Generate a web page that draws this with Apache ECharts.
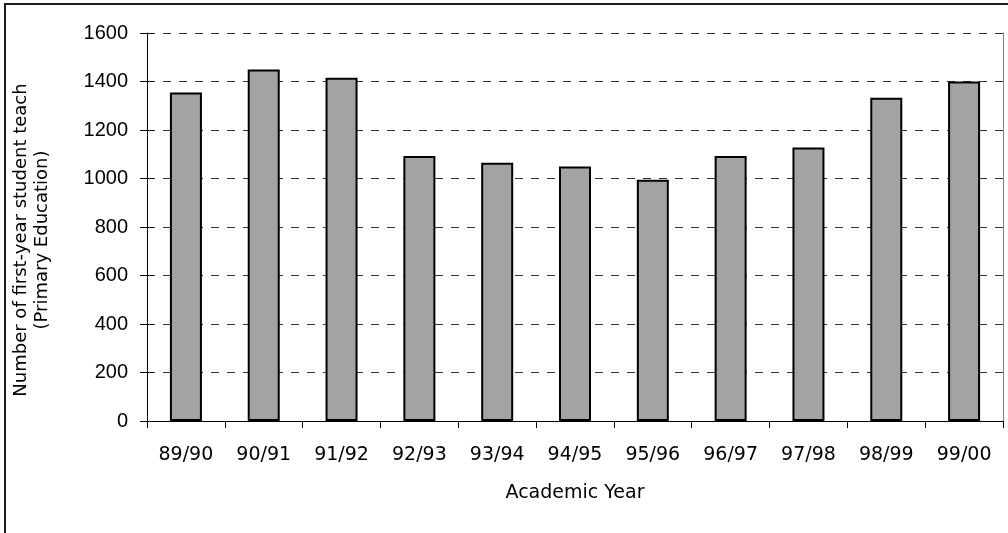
<!DOCTYPE html>
<html>
<head>
<meta charset="utf-8">
<script src="https://cdn.jsdelivr.net/npm/echarts@6/dist/echarts.min.js"></script>
<style>
  html, body { margin: 0; padding: 0; background: #fff; }
  #chart { width: 1008px; height: 533px; }
</style>
</head>
<body>
<div id="chart"></div>
<script>
// Academic years on the category axis
const years = ['89/90', '90/91', '91/92', '92/93', '93/94', '94/95', '95/96', '96/97', '97/98', '98/99', '99/00'];
// First-year student teachers enrolled (primary education)
const students = [1355, 1450, 1415, 1093, 1065, 1050, 995, 1093, 1128, 1333, 1400];
// Value axis range
const yMin = 0;
const yMax = 1600;
const yStep = 200;

const xFont = 'DejaVu Sans';
const yFont = 'Liberation Sans';

const chart = echarts.init(document.getElementById('chart'));

const valueAxisBase = {
  type: 'value',
  min: yMin,
  max: yMax,
  interval: yStep
};

chart.setOption({
  animation: false,
  backgroundColor: '#fff',
  grid: { left: 147, right: 5, top: 33, bottom: 112 },
  graphic: [{
    type: 'rect',
    shape: { x: 5, y: 4, width: 1200, height: 700 },
    style: { fill: 'none', stroke: '#1a1a1a', lineWidth: 2 },
    silent: true,
    z: 100
  }],
  xAxis: {
    type: 'category',
    data: years,
    boundaryGap: true,
    axisLine: { show: true, lineStyle: { color: '#000', width: 1 } },
    axisTick: { show: true, length: 7, alignWithLabel: false, lineStyle: { color: '#000' } },
    axisLabel: { color: '#000', fontFamily: xFont, fontSize: 19, margin: 25 },
    splitLine: { show: false },
    name: 'Academic Year',
    nameLocation: 'middle',
    nameGap: 63,
    nameTextStyle: { color: '#000', fontFamily: xFont, fontSize: 19 }
  },
  yAxis: [
    Object.assign({}, valueAxisBase, {
      position: 'left',
      axisLine: { show: true, lineStyle: { color: '#000', width: 1 } },
      axisTick: { show: true, inside: false, length: 7, lineStyle: { color: '#000' } },
      axisLabel: {
        color: '#000', fontFamily: yFont, fontSize: 20, margin: 19,
        formatter: function (v) { return String(v); }
      },
      splitLine: { show: true, lineStyle: { color: '#333', type: [8, 8], width: 1 } },
      name: 'Number of first-year student teach\n(Primary Education)',
      nameLocation: 'middle',
      nameRotate: 90,
      nameGap: 94,
      nameTextStyle: {
        color: '#000', fontFamily: xFont, fontSize: 18, lineHeight: 21, align: 'center',
        padding: [0, 26, 0, 0]
      }
    }),
    Object.assign({}, valueAxisBase, {
      position: 'left',
      axisLine: { show: false },
      axisTick: { show: true, inside: true, length: 7, lineStyle: { color: '#000' } },
      axisLabel: { show: false },
      splitLine: { show: false }
    }),
    Object.assign({}, valueAxisBase, {
      position: 'right',
      axisLine: { show: true, lineStyle: { color: '#808080', width: 1 } },
      axisTick: { show: false },
      axisLabel: { show: false },
      splitLine: { show: false }
    })
  ],
  series: [{
    type: 'bar',
    data: students,
    yAxisIndex: 0,
    barWidth: 32,
    itemStyle: { color: '#a3a3a3', borderColor: '#000', borderWidth: 2 }
  }]
});
</script>
</body>
</html>
